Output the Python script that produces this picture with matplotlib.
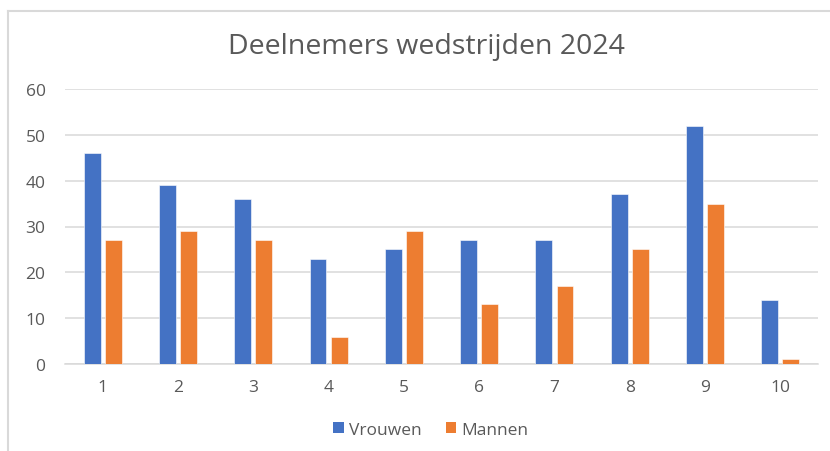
import matplotlib
matplotlib.use("Agg")
import matplotlib.pyplot as plt
from matplotlib.lines import Line2D
from matplotlib.patches import Patch
import numpy as np

categories = ["1", "2", "3", "4", "5", "6", "7", "8", "9", "10"]
vrouwen = [46, 39, 36, 23, 25, 27, 27, 37, 52, 14]
mannen = [27, 29, 27, 6, 29, 13, 17, 25, 35, 1]
yticks = [0, 10, 20, 30, 40, 50, 60]
title = "Deelnemers wedstrijden 2024"

plt.rcParams['font.family'] = ['Open Sans', 'DejaVu Sans']

W, H = 830, 452
fig = plt.figure(figsize=(W / 100, H / 100), dpi=100)
fig.patch.set_facecolor("white")

# outer chart frame (only left and top visible)
fig.add_artist(Line2D([8 / W, 8 / W], [0, 1 - 12 / H], transform=fig.transFigure,
                      color="#d9d9d9", lw=1.5))
fig.add_artist(Line2D([8 / W, 1], [1 - 12 / H, 1 - 12 / H], transform=fig.transFigure,
                      color="#d9d9d9", lw=1.5))

ax = fig.add_axes([65 / W, 1 - 365 / H, (818 - 65) / W, (365 - 90) / H])
x = np.arange(len(categories))
bw = 0.225
off = 0.14
ax.bar(x - off, vrouwen, bw, color="#4472C4", edgecolor="#ffffff", linewidth=0.4,
       label="Vrouwen", zorder=3)
ax.bar(x + off, mannen, bw, color="#ED7D31", edgecolor="#ffffff", linewidth=0.4,
       label="Mannen", zorder=3)

ax.set_xlim(-0.5, len(categories) - 0.5)
ax.set_ylim(0, 60)
ax.set_yticks(yticks)
ax.set_xticks(x)
ax.set_xticklabels(categories)
ax.grid(axis="y", color="#d9d9d9", linewidth=1.1, zorder=0)
for s in ["top", "right", "left"]:
    ax.spines[s].set_visible(False)
ax.spines["bottom"].set_color("#d9d9d9")
ax.spines["bottom"].set_linewidth(1.1)
ax.tick_params(axis="both", length=0, labelsize=12.5, labelcolor="#595959")
ax.tick_params(axis="y", pad=14)
ax.tick_params(axis="x", pad=11)

fig.text(426 / W, 1 - 47 / H, title, ha="center", va="center", fontsize=20.5,
         color="#595959")

handles = [Patch(facecolor="#4472C4", label="Vrouwen"),
           Patch(facecolor="#ED7D31", label="Mannen")]
fig.legend(handles=handles, loc="center", bbox_to_anchor=(431 / W, 1 - 431 / H),
           ncol=2, frameon=False, fontsize=12.5, labelcolor="#595959",
           handlelength=0.6, handleheight=0.6, handletextpad=0.3, columnspacing=1.4)

fig.savefig("out.png", dpi=100, facecolor="white")
